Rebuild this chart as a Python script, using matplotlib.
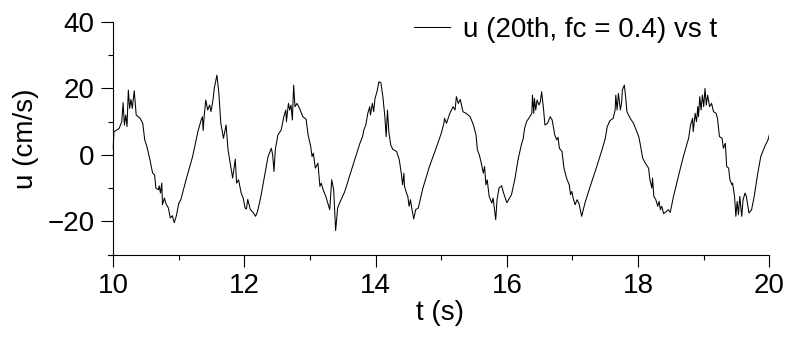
import numpy as np
import matplotlib
matplotlib.use("Agg")
import matplotlib.pyplot as plt
from matplotlib.ticker import MultipleLocator

plt.rcParams["font.family"] = ["Liberation Sans", "DejaVu Sans"]
FONT = 20

# filtered velocity record, u (cm/s) against t (s)
t = [10.00, 10.01, 10.04, 10.09, 10.13, 10.15, 10.17, 10.19, 10.21, 10.23,
     10.25, 10.27, 10.29, 10.32, 10.35, 10.41, 10.45, 10.48, 10.51, 10.56,
     10.60, 10.63, 10.65, 10.69, 10.70, 10.72, 10.74, 10.75, 10.78, 10.80,
     10.84, 10.87, 10.90, 10.93, 10.96, 11.00, 11.03, 11.11, 11.21, 11.29,
     11.34, 11.36, 11.37, 11.39, 11.41, 11.44, 11.47, 11.49, 11.52, 11.54,
     11.58, 11.61, 11.64, 11.68, 11.72, 11.75, 11.80, 11.82, 11.86, 11.88,
     11.91, 11.95, 11.98, 12.01, 12.03, 12.05, 12.09, 12.13, 12.17, 12.20,
     12.25, 12.31, 12.36, 12.41, 12.43, 12.45, 12.47, 12.51, 12.56, 12.60,
     12.63, 12.64, 12.67, 12.69, 12.71, 12.73, 12.75, 12.77, 12.80, 12.84,
     12.89, 12.94, 12.97, 13.01, 13.03, 13.05, 13.08, 13.12, 13.15, 13.17,
     13.20, 13.24, 13.27, 13.30, 13.33, 13.36, 13.39, 13.42, 13.45, 13.53,
     13.60, 13.68, 13.76, 13.80, 13.82, 13.85, 13.88, 13.91, 13.92, 13.95,
     13.97, 13.99, 14.02, 14.05, 14.08, 14.11, 14.14, 14.16, 14.18, 14.20,
     14.23, 14.26, 14.32, 14.36, 14.39, 14.41, 14.43, 14.44, 14.47, 14.49,
     14.51, 14.53, 14.55, 14.58, 14.61, 14.65, 14.72, 14.82, 14.93, 15.00,
     15.04, 15.05, 15.08, 15.13, 15.18, 15.21, 15.23, 15.26, 15.29, 15.33,
     15.38, 15.44, 15.49, 15.53, 15.55, 15.58, 15.61, 15.64, 15.66, 15.68,
     15.70, 15.73, 15.77, 15.79, 15.83, 15.85, 15.88, 15.92, 15.95, 16.00,
     16.07, 16.12, 16.17, 16.22, 16.25, 16.27, 16.30, 16.35, 16.38, 16.39,
     16.41, 16.42, 16.44, 16.46, 16.49, 16.51, 16.53, 16.56, 16.58, 16.62,
     16.66, 16.69, 16.73, 16.76, 16.78, 16.80, 16.84, 16.87, 16.91, 16.95,
     16.97, 16.99, 17.01, 17.04, 17.07, 17.10, 17.14, 17.19, 17.27, 17.37,
     17.45, 17.50, 17.53, 17.57, 17.62, 17.65, 17.66, 17.68, 17.70, 17.73,
     17.75, 17.76, 17.79, 17.81, 17.83, 17.88, 17.93, 17.99, 18.01, 18.03,
     18.07, 18.11, 18.16, 18.18, 18.21, 18.22, 18.24, 18.27, 18.30, 18.32,
     18.34, 18.36, 18.39, 18.43, 18.46, 18.49, 18.54, 18.62, 18.69, 18.77,
     18.80, 18.83, 18.84, 18.87, 18.89, 18.91, 18.92, 18.94, 18.96, 18.98,
     19.00, 19.02, 19.04, 19.06, 19.09, 19.12, 19.15, 19.19, 19.21, 19.24,
     19.28, 19.30, 19.33, 19.35, 19.38, 19.40, 19.43, 19.44, 19.47, 19.49,
     19.51, 19.53, 19.55, 19.58, 19.60, 19.63, 19.65, 19.69, 19.73, 19.77,
     19.82, 19.87, 19.93, 19.98, 20.00]
u = [2, 7, 7.3, 8.0, 10.0, 15.7, 9.0, 12, 8.5, 19.5,
     14, 16.7, 14, 19.3, 12, 11, 9.5, 4.5, 2.7, -1.5,
     -5.5, -6, -10, -10.5, -9.3, -11.5, -8.5, -15, -13, -14.5,
     -16, -19, -18.3, -20.4, -18.5, -14.5, -13.5, -7.5, -0.5, 7,
     10.5, 11.5, 7.3, 12.5, 16.5, 13.5, 15, 13, 16.5, 20,
     24, 18.5, 9.5, 5, 9, 1.5, -4.5, -7, -1.3, -8.5,
     -7.5, -11.5, -13, -16, -16.3, -13.4, -16.5, -17.3, -18.5, -17,
     -12.5, -6, -0.5, 2, 0, -5, 1.5, 6, 7.5, 11.5,
     13.5, 10, 15.5, 13.5, 15, 10.5, 21, 14.5, 15.5, 14,
     11.5, 10.7, 6, 2.5, -0.5, 0.5, -4, -2.5, -9.5, -8.5,
     -10.5, -12.5, -14.5, -16.5, -7.5, -10.5, -22.8, -16, -14.5, -11,
     -6.5, -1.5, 3.5, 5.5, 7.5, 9, 12.5, 14.5, 12, 15.5,
     13, 17, 19, 22, 21.7, 17.5, 11.5, 5.5, 13.5, 7,
     3, 1.7, 1, -1.5, -5.5, -9, -5.5, -9.5, -11.5, -12.5,
     -15.5, -13.5, -16, -19.3, -16.5, -16, -10, -3.5, 2.5, 6.5,
     9.5, 11, 9.5, 12.5, 14.5, 13.5, 17.5, 15.5, 16.7, 13,
     12.5, 11.5, 9, 6, 1.5, 0, -2.5, -5.5, -3.5, -9,
     -7.5, -12.5, -14.5, -13, -19.5, -13.5, -10, -9.3, -11.5, -14.4,
     -12, -7.5, -1.5, 3, 5, 8, 10, 11.5, 12.5, 18,
     12.5, 17, 13.5, 16.5, 15, 16, 19, 13.5, 9, 9.5,
     11.5, 10.5, 6, 4.5, 5.3, 2, 1, -4, -7, -9,
     -12, -11, -13, -15, -13.5, -14.7, -18.5, -14.5, -9.5, -3.5,
     1.5, 5, 8.5, 10.3, 11, 13.5, 18, 13.5, 18.5, 13.5,
     16, 19.5, 21, 17.5, 13, 11, 9.5, 6.5, 5.5, 3.5,
     -1, -2.5, -4, -7.5, -10, -7, -12.5, -13.5, -15.5, -14,
     -16.5, -15.5, -17.7, -17, -16.5, -17.3, -12.5, -6, -0.5, 5,
     9, 11, 7, 12.5, 10, 14.5, 11.5, 17.5, 13.5, 18,
     14.5, 20, 15, 18, 14.5, 15.5, 13, 12.5, 11, 5.5,
     5, 2, 3.5, -3.5, -4, -7.5, -9, -8.5, -12.5, -18.5,
     -14, -18, -12.5, -18.5, -13.5, -11.5, -12.5, -17.5, -16.5, -12.5,
     -6, -0.5, 2.5, 4.5, 6]

fig = plt.figure(figsize=(7.9, 3.38), dpi=100)
ax = fig.add_axes([0.1367, 0.247, 0.9738 - 0.1367, 0.9349 - 0.247])

ax.plot(t, u, color="black", lw=0.75, label="u (20th, fc = 0.4) vs t")

ax.set_xlim(9.92, 20)
ax.set_ylim(-30, 40)
ax.spines["top"].set_visible(False)
ax.spines["right"].set_visible(False)
ax.spines["left"].set_position(("data", 10))
for s in ("left", "bottom"):
    ax.spines[s].set_linewidth(0.8)

ax.xaxis.set_minor_locator(MultipleLocator(1))
ax.yaxis.set_minor_locator(MultipleLocator(10))
ax.set_xticks([10, 12, 14, 16, 18, 20])
ax.set_yticks([-20, 0, 20, 40])
ax.tick_params(which="major", direction="out", length=8.5, width=0.8,
               labelsize=FONT, pad=5)
ax.tick_params(which="minor", direction="out", length=3.5, width=0.8)
ax.set_yticklabels(["\u221220", "0", "20", "40"])

ax.set_xlabel("t (s)", fontsize=FONT)
ax.set_ylabel("u (cm/s)", fontsize=FONT)
ax.xaxis.set_label_coords(0.502, -0.197)
ax.yaxis.set_label_coords(-0.104, 0.5)

ax.legend(loc="upper left", bbox_to_anchor=(414 / 790, 1 - 17 / 338),
          bbox_transform=fig.transFigure, frameon=False, fontsize=FONT,
          handlelength=1.3, handletextpad=0.45, borderpad=0, borderaxespad=0)

fig.savefig("out.png", dpi=100)
